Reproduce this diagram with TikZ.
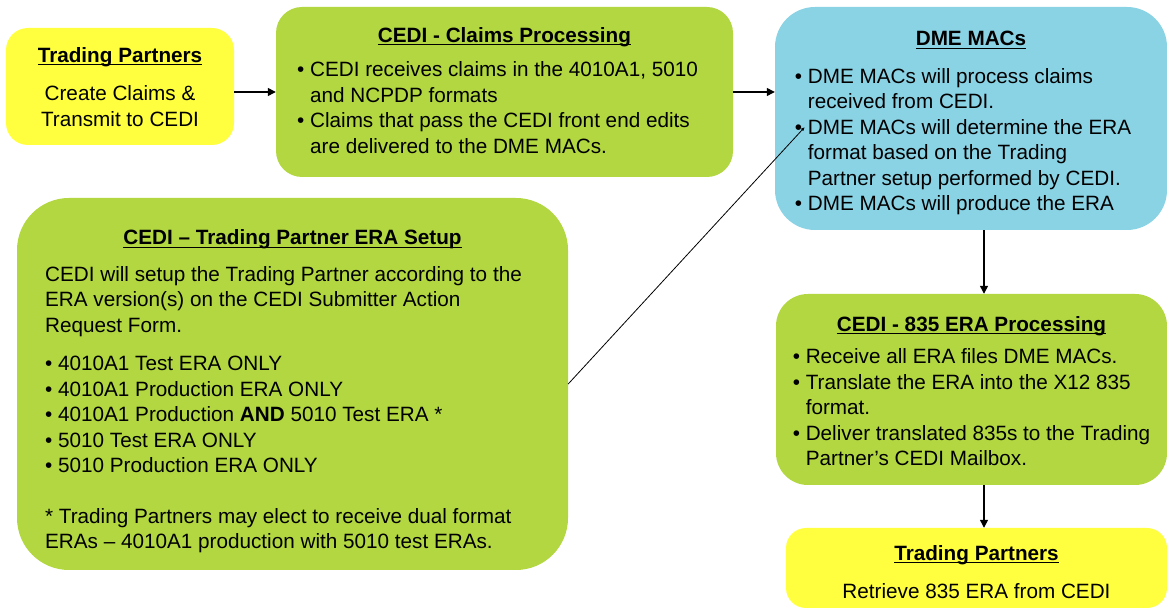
\documentclass[tikz,border=0pt]{standalone}
\usepackage{fontspec}
\setmainfont{Liberation Sans}
\usetikzlibrary{arrows.meta}

\definecolor{tpyellow}{RGB}{255,255,64}
\definecolor{cedigreen}{RGB}{178,215,64}
\definecolor{macblue}{RGB}{138,211,229}

% underlined bold heading of a box (optional: extra room above it)
\newcommand{\ttl}[2][0pt]{\rule{0pt}{\dimexpr15.5pt+#1\relax}{\bfseries\setbox0\hbox{#2}\rlap{\rule[-2.8pt]{\wd0}{1.2pt}}\box0}}
% left aligned block of lines under the heading (optional: room on its right)
\newcommand{\blist}[2][0pt]{\begin{tabular}[t]{@{}l@{\hspace{#1}}}#2\end{tabular}}
\newcommand{\ind}{\phantom{• }}

\begin{document}
\begin{tikzpicture}[x=1pt,y=1pt,
  box/.style={inner sep=0pt, align=center, font=\fontsize{20.7}{25.5}\selectfont},
  tpbox/.style={box, fill=tpyellow},
  cedibox/.style={box, fill=cedigreen},
  macbox/.style={box, fill=macblue},
  flow/.style={-{Triangle[length=8pt,width=8pt]}, line width=1.3pt},
  link/.style={-{Latex[length=4pt,width=3.5pt]}, line width=0.8pt}]
\useasboundingbox (0,0) rectangle (1167,610);

\node[tpbox, rounded corners=22pt, minimum width=228pt, minimum height=117pt] (tp1) at (120,523.5)
  {\ttl{Trading Partners}\\[13pt]Create Claims \&\\Transmit to CEDI};
\node[cedibox, rounded corners=26pt, minimum width=457pt, minimum height=170pt] (claims) at (504.5,518)
  {\ttl[4pt]{CEDI - Claims Processing}\\[9pt]
   \blist[14pt]{• CEDI receives claims in the 4010A1, 5010\\
          \ind and NCPDP formats\\
          • Claims that pass the CEDI front end edits\\
          \ind are delivered to the DME MACs.}};
\node[macbox, rounded corners=40pt, minimum width=392pt, minimum height=223pt] (macs) at (971,491.5)
  {\ttl[12pt]{DME MACs}\\[12pt]
   \blist[16pt]{• DME MACs will process claims\\
          \ind received from CEDI.\\
          • DME MACs will determine the ERA\\
          \ind format based on the Trading\\
          \ind Partner setup performed by CEDI.\\
          • DME MACs will produce the ERA}};
\node[cedibox, rounded corners=52pt, minimum width=551pt, minimum height=372pt] (setup) at (292.5,226)
  {\ttl[18pt]{CEDI – Trading Partner ERA Setup}\\[11pt]
   \blist[18pt]{CEDI will setup the Trading Partner according to the\\
          ERA version(s) on the CEDI Submitter Action\\
          Request Form.\\[13pt]
          • 4010A1 Test ERA ONLY\\
          • 4010A1 Production ERA ONLY\\
          • 4010A1 Production \textbf{AND} 5010 Test ERA *\\
          • 5010 Test ERA ONLY\\
          • 5010 Production ERA ONLY\\[25pt]
          * Trading Partners may elect to receive dual format\\
          ERAs – 4010A1 production with 5010 test ERAs.}};
\node[cedibox, rounded corners=32pt, minimum width=391pt, minimum height=191pt] (era) at (971.5,220.5)
  {\ttl[10pt]{CEDI - 835 ERA Processing}\\[7pt]
   \blist{• Receive all ERA files DME MACs.\\
          • Translate the ERA into the X12 835\\
          \ind format.\\
          • Deliver translated 835s to the Trading\\
          \ind Partner’s CEDI Mailbox.}};
\node[tpbox, rounded corners=20pt, minimum width=381pt, minimum height=80pt] (tp2) at (976.5,42)
  {\ttl[8pt]{Trading Partners}\\[13pt]Retrieve 835 ERA from CEDI};

\draw[flow] (tp1.east |- claims.west) -- (claims.west);
\draw[flow] (claims.east) -- (claims.east -| macs.west);
\draw[flow] ([xshift=13pt]macs.south) -- ([xshift=13pt]macs.south |- era.north);
\draw[flow] ([xshift=12.5pt]era.south) -- ([xshift=12.5pt]era.south |- tp2.north);
\draw[link] (setup.east) -- ([shift={(30pt,-8.5pt)}]macs.west);
\end{tikzpicture}
\end{document}
